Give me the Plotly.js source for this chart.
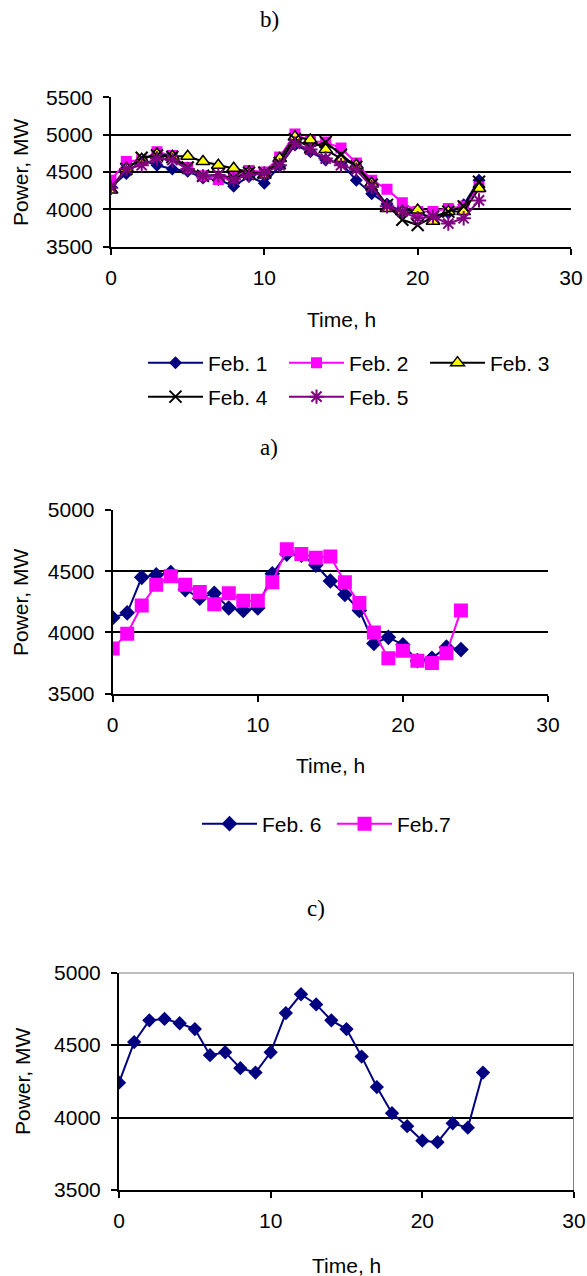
<!DOCTYPE html>
<html>
<head>
<meta charset="utf-8">
<script src="https://cdn.plot.ly/plotly-3.0.1.min.js"></script>
<style>html,body{margin:0;padding:0;background:#fff;}#chart{width:587px;height:1276px;}</style>
</head>
<body>
<div id="chart"></div>
<script>
// ---- data ----
const hours = [0,1,2,3,4,5,6,7,8,9,10,11,12,13,14,15,16,17,18,19,20,21,22,23,24];

// chart a)
const feb1 = [4300,4480,4660,4590,4540,4510,4420,4400,4310,4440,4350,4580,4860,4770,4660,4620,4390,4210,4070,3970,3940,3900,3950,4060,4390];
const feb2 = [4390,4640,4660,4770,4720,4560,4450,4400,4430,4520,4500,4700,5010,4910,4900,4820,4620,4390,4270,4090,3970,3970,4010,4040,4300];
const feb3 = [4260,4550,4670,4740,4710,4710,4640,4590,4550,4500,4460,4680,4970,4930,4800,4680,4590,4350,4010,3970,3990,3840,3970,3970,4280];
const feb4 = [4300,4540,4690,4720,4700,4560,4450,4460,4420,4490,4490,4620,4940,4830,4900,4730,4570,4330,4060,3860,3790,3900,3970,4040,4370];
const feb5 = [4290,4540,4590,4680,4660,4540,4440,4460,4400,4460,4480,4590,4880,4800,4680,4590,4530,4300,4040,3970,3880,3900,3810,3880,4120];

// chart b)
const feb6 = [4120,4160,4450,4470,4490,4350,4280,4320,4200,4180,4200,4480,4640,4630,4550,4420,4310,4180,3910,3960,3900,3770,3790,3880,3860];
const feb7 = [3870,3990,4220,4390,4460,4390,4330,4230,4320,4260,4260,4410,4680,4640,4610,4620,4410,4240,4000,3790,3850,3770,3750,3830,4180];

// chart c)
const loadC = [4240,4520,4670,4680,4650,4610,4430,4450,4340,4310,4450,4720,4850,4780,4670,4610,4420,4210,4030,3940,3840,3830,3960,3930,4310];

const namesA = ["Feb. 1","Feb. 2","Feb. 3","Feb. 4","Feb. 5"];
const namesB = ["Feb. 6","Feb.7"];
const xTicks = [0,10,20,30];
const yTicksA = [3500,4000,4500,5000,5500];
const yTicksBC = [3500,4000,4500,5000];
const xTitle = "Time, h";
const yTitle = "Power, MW";
const panelLabels = ["b)","a)","c)"];

// ---- layout helpers ----
const W = 587, H = 1276;
const px = v => v / W;
const py = v => 1 - v / H;
const SANS = "Liberation Sans, Arial, sans-serif";
const SERIF = "Liberation Serif, Times New Roman, serif";
const NAVY = "#000080", MAG = "#FF00FF", YEL = "#FFFF00", PUR = "#800080", BLK = "#000000";
const FS = 21;

function xaxisDef(x0, x1, anchor) {
  return {domain:[px(x0), px(x1)], range:[0,30], tickvals:xTicks, anchor:anchor,
    showline:true, linecolor:BLK, linewidth:2, ticks:"outside", ticklen:6, tickwidth:2, tickcolor:BLK,
    ticklabelstandoff:5,
    showgrid:false, zeroline:false, tickfont:{family:SANS,size:FS,color:BLK}, fixedrange:true};
}
function yaxisDef(y0, y1, range, tv, anchor) {
  return {domain:[py(y1), py(y0)], range:range, tickvals:tv, anchor:anchor,
    showline:true, linecolor:BLK, linewidth:2, ticks:"outside", ticklen:6, tickwidth:2, tickcolor:BLK,
    ticklabelstandoff:6,
    showgrid:true, gridcolor:BLK, gridwidth:2, zeroline:false,
    tickfont:{family:SANS,size:FS,color:BLK}, fixedrange:true};
}

const traces = [
  {x:hours, y:feb1, name:namesA[0], xaxis:"x", yaxis:"y", legend:"legend", mode:"lines+markers",
   line:{color:NAVY,width:2}, marker:{symbol:"diamond",size:10,color:NAVY}},
  {x:hours, y:feb2, name:namesA[1], xaxis:"x", yaxis:"y", legend:"legend", mode:"lines+markers",
   line:{color:MAG,width:2}, marker:{symbol:"square",size:11,color:MAG}},
  {x:hours, y:feb3, name:namesA[2], xaxis:"x", yaxis:"y", legend:"legend", mode:"lines+markers",
   line:{color:BLK,width:2}, marker:{symbol:"triangle-up",size:12,color:YEL,line:{color:BLK,width:1.5}}},
  {x:hours, y:feb4, name:namesA[3], xaxis:"x", yaxis:"y", legend:"legend2", mode:"lines+markers",
   line:{color:BLK,width:2}, marker:{symbol:"x-thin-open",size:12,color:BLK,line:{color:BLK,width:2}}},
  {x:hours, y:feb5, name:namesA[4], xaxis:"x", yaxis:"y", legend:"legend2", mode:"lines+markers",
   line:{color:PUR,width:2}, marker:{symbol:"asterisk-open",size:12,color:PUR,line:{color:PUR,width:2}}},
  {x:hours, y:feb6, name:namesB[0], xaxis:"x2", yaxis:"y2", legend:"legend3", mode:"lines+markers",
   line:{color:NAVY,width:2}, marker:{symbol:"diamond",size:12,color:NAVY}},
  {x:hours, y:feb7, name:namesB[1], xaxis:"x2", yaxis:"y2", legend:"legend3", mode:"lines+markers",
   line:{color:MAG,width:2}, marker:{symbol:"square",size:14,color:MAG}},
  {x:hours, y:loadC, name:"c", xaxis:"x3", yaxis:"y3", showlegend:false, mode:"lines+markers",
   line:{color:NAVY,width:2}, marker:{symbol:"diamond",size:11,color:NAVY}}
];

function legendDef(x, y, ew) {
  return {orientation:"h", x:px(x), y:py(y), xanchor:"left", yanchor:"middle",
    font:{family:SANS,size:FS,color:BLK}, itemwidth:55,
    entrywidth:ew, entrywidthmode:"pixels"};
}

function ann(text, x, y, font, angle) {
  return {text:text, x:px(x), y:py(y), xref:"paper", yref:"paper", xanchor:"center", yanchor:"middle",
    showarrow:false, font:font, textangle:angle||0};
}
const axFont = {family:SANS,size:FS,color:BLK};
const lblFont = {family:SERIF,size:23,color:BLK};

const layout = {
  width:W, height:H, margin:{l:0,r:0,t:0,b:0}, paper_bgcolor:"#fff", plot_bgcolor:"#fff",
  showlegend:true,
  xaxis: xaxisDef(111, 571, "y"),
  yaxis: yaxisDef(97.3, 246.7, [3500,5500], yTicksA, "x"),
  xaxis2: xaxisDef(112.7, 548, "y2"),
  yaxis2: yaxisDef(510, 693.7, [3500,5000], yTicksBC, "x2"),
  xaxis3: xaxisDef(119, 574, "y3"),
  yaxis3: yaxisDef(972.5, 1190, [3500,5000], yTicksBC, "x3"),
  legend: legendDef(143, 363, 71),
  legend2: legendDef(143, 397, 71),
  legend3: legendDef(197, 824, 65),
  annotations: [
    ann(panelLabels[0], 269, 20, lblFont),
    ann(panelLabels[1], 269, 447, lblFont),
    ann(panelLabels[2], 316, 908, lblFont),
    ann(xTitle, 341, 320, axFont),
    ann(xTitle, 330, 765, axFont),
    ann(xTitle, 346, 1265, axFont),
    ann(yTitle, 20, 172, axFont, -90),
    ann(yTitle, 20, 602, axFont, -90),
    ann(yTitle, 22, 1081, axFont, -90)
  ],
  shapes: [
    {type:"line", xref:"x3", yref:"y3", x0:0, x1:30, y0:5000, y1:5000, line:{color:"#808080",width:2}},
    {type:"line", xref:"x3", yref:"y3", x0:30, x1:30, y0:3500, y1:5000, line:{color:"#808080",width:2}}
  ]
};

Plotly.newPlot("chart", traces, layout, {displayModeBar:false});
</script>
</body>
</html>
